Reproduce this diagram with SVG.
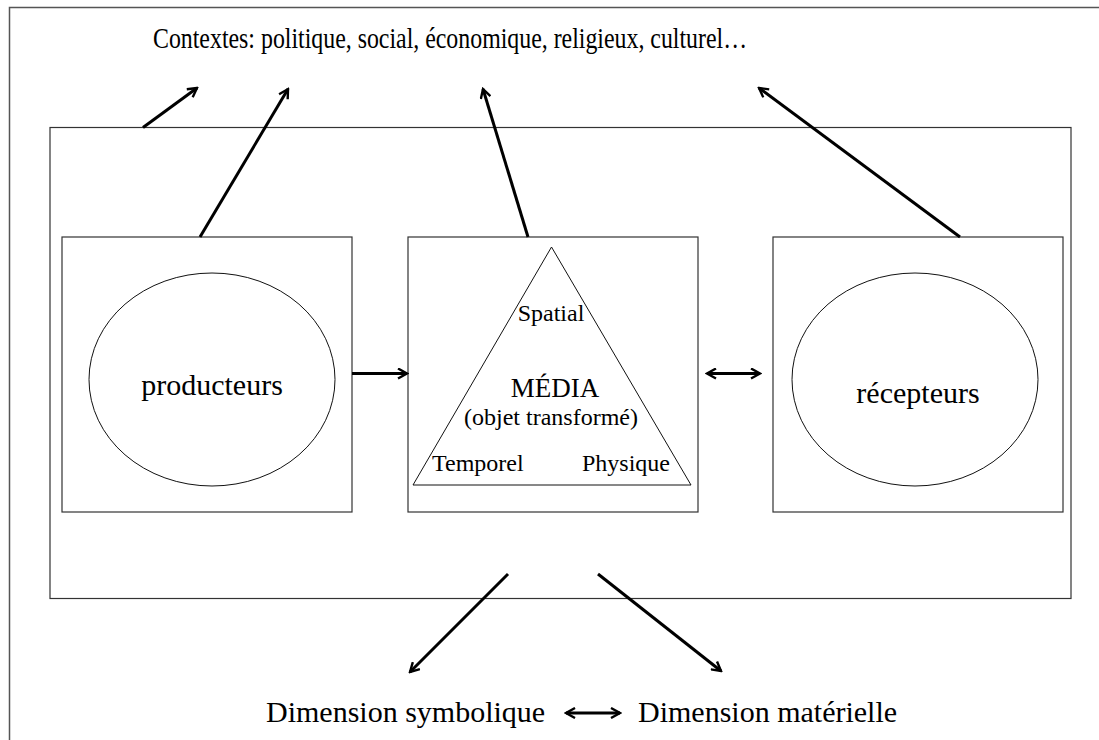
<svg xmlns="http://www.w3.org/2000/svg" width="1099" height="740" viewBox="0 0 1099 740">
<style>
.frame{fill:none;stroke:#555;stroke-width:1.5}
.box{fill:none;stroke:#333;stroke-width:1.2}
.shape{fill:none;stroke:#111;stroke-width:1}
.conn{fill:none;stroke:#000;stroke-width:3}
.t{font-family:"Liberation Serif","Times New Roman",serif;fill:#000}
.big{font-size:30px}
.mid{font-size:24px}
</style>
<defs>
<marker id="ah" viewBox="0 0 12 12" refX="10" refY="6" markerWidth="12" markerHeight="12" markerUnits="userSpaceOnUse" orient="auto-start-reverse">
<path d="M1,1 L10,6 L1,11" fill="none" stroke="#000" stroke-width="2.4" stroke-linejoin="miter"/>
</marker>
</defs>
<rect width="1099" height="740" fill="#fff"/>
<path class="frame" d="M1099,7.5 H9.5 V740"/>
<g id="contexte">
<rect class="box" x="50" y="127.5" width="1021" height="471"/>
<text class="t big" x="153" y="48" textLength="594" lengthAdjust="spacingAndGlyphs">Contextes: politique, social, économique, religieux, culturel…</text>
</g>
<g id="producteurs">
<rect class="box" x="62" y="237" width="290" height="275"/>
<ellipse class="shape" cx="212" cy="379.5" rx="123" ry="106.5"/>
<text class="t big" x="212" y="395" text-anchor="middle">producteurs</text>
</g>
<g id="media">
<rect class="box" x="408" y="237" width="290" height="275"/>
<polygon class="shape" points="551.5,247 413,485 691,485"/>
<text class="t mid" x="551" y="321" text-anchor="middle">Spatial</text>
<text class="t" font-size="27" x="555" y="397" text-anchor="middle">MÉDIA</text>
<text class="t mid" x="551" y="425" text-anchor="middle">(objet transformé)</text>
<text class="t mid" x="432" y="471">Temporel</text>
<text class="t mid" x="670" y="471" text-anchor="end">Physique</text>
</g>
<g id="recepteurs">
<rect class="box" x="773" y="237" width="290" height="275"/>
<ellipse class="shape" cx="915" cy="379.5" rx="123" ry="106.5"/>
<text class="t big" x="918" y="403" text-anchor="middle">récepteurs</text>
</g>
<g id="dimensions">
<text class="t big" x="266" y="722">Dimension symbolique</text>
<text class="t big" x="638" y="722">Dimension matérielle</text>
</g>
<g id="connectors">
<line class="conn" x1="143" y1="127.5" x2="197" y2="88" marker-end="url(#ah)"/>
<line class="conn" x1="200" y1="237" x2="288" y2="89" marker-end="url(#ah)"/>
<line class="conn" x1="528" y1="237" x2="483" y2="89" marker-end="url(#ah)"/>
<line class="conn" x1="960" y1="237" x2="759" y2="88" marker-end="url(#ah)"/>
<line class="conn" x1="352" y1="373.5" x2="407" y2="373.5" marker-end="url(#ah)"/>
<line class="conn" x1="707" y1="373.5" x2="760" y2="373.5" marker-start="url(#ah)" marker-end="url(#ah)"/>
<line class="conn" x1="508" y1="574" x2="410" y2="672" marker-end="url(#ah)"/>
<line class="conn" x1="598" y1="574" x2="721" y2="671" marker-end="url(#ah)"/>
<line class="conn" x1="566" y1="713" x2="620" y2="713" marker-start="url(#ah)" marker-end="url(#ah)"/>
</g>
</svg>
